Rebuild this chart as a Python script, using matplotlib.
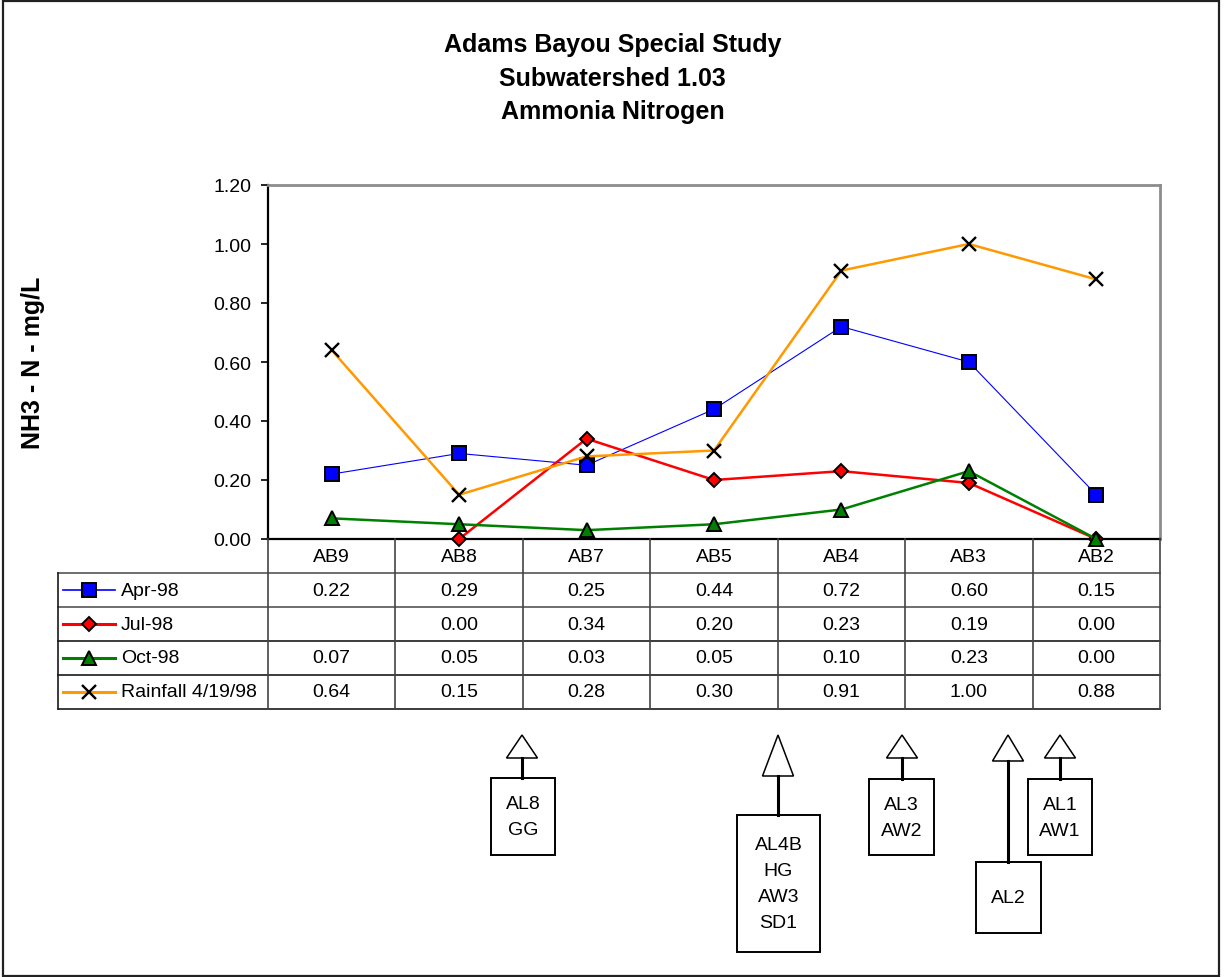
import numpy as np
import matplotlib
matplotlib.use("Agg")
from matplotlib import pyplot as plt
import matplotlib.patches as patches

plt.rcParams["font.family"] = ["Liberation Sans", "DejaVu Sans"]

# sampling stations, upstream to downstream
stations = ["AB9", "AB8", "AB7", "AB5", "AB4", "AB3", "AB2"]

apr_98 = [0.22, 0.29, 0.25, 0.44, 0.72, 0.60, 0.15]
jul_98 = [np.nan, 0.00, 0.34, 0.20, 0.23, 0.19, 0.00]
oct_98 = [0.07, 0.05, 0.03, 0.05, 0.10, 0.23, 0.00]
rain_98 = [0.64, 0.15, 0.28, 0.30, 0.91, 1.00, 0.88]

series_names = ["Apr-98", "Jul-98", "Oct-98", "Rainfall 4/19/98"]
y_ticks = [0.0, 0.2, 0.4, 0.6, 0.8, 1.0, 1.2]

title_lines = ["Adams Bayou Special Study", "Subwatershed 1.03", "Ammonia Nitrogen"]
y_label = "NH3 - N - mg/L"

# outfall / tributary callouts under the stations
callout_labels = [["AL8", "GG"], ["AL4B", "HG", "AW3", "SD1"], ["AL3", "AW2"],
                  ["AL2"], ["AL1", "AW1"]]

W, H = 1225, 978
fig = plt.figure(figsize=(W / 100, H / 100), dpi=100)

# full-figure overlay in pixel units (y down) for frame and callouts
over = fig.add_axes([0, 0, 1, 1])
over.set_xlim(0, W)
over.set_ylim(H, 0)
over.axis("off")
over.add_patch(patches.Rectangle((3, 2), 1216, 975, fill=False, ec="#222222", lw=1.6))


def px_box(left, top, right, bottom):
    return [left / W, 1 - bottom / H, (right - left) / W, (bottom - top) / H]


plot_l, plot_t, plot_r, plot_b = 268, 186, 1160, 540
ax = fig.add_axes(px_box(plot_l, plot_t, plot_r, plot_b))
ax.patch.set_alpha(0)

x = np.arange(len(stations))
styles = [
    dict(color="#0000FF", lw=0.8, marker="s", ms=9.5, mfc="#0000FF", mew=1.4),
    dict(color="#FF0000", lw=1.8, marker="D", ms=7.2, mfc="#FF0000", mew=1.4),
    dict(color="#008000", lw=1.8, marker="^", ms=10, mfc="#008000", mew=1.4),
    dict(color="#FF9900", lw=1.8, marker="x", ms=10.5, mfc="black", mew=1.7),
]
all_series = [apr_98, jul_98, oct_98, rain_98]
for vals, st in zip(all_series, styles):
    ax.plot(x, vals, mec="black", clip_on=False, zorder=3, **st)

ax.set_xlim(-0.5, len(stations) - 0.5)
ax.set_ylim(0, 1.2)
ax.set_yticks(y_ticks)
ax.set_yticklabels([f"{t:.2f}" for t in y_ticks], fontsize=14)
ax.tick_params(axis="y", direction="out", length=5, width=1.2, pad=7)
ax.set_xticks([])
for side in ["left", "bottom"]:
    ax.spines[side].set_color("black")
    ax.spines[side].set_linewidth(1.6)
for side in ["top", "right"]:
    ax.spines[side].set_color("#8c8c8c")
    ax.spines[side].set_linewidth(2.0)

# data table below the plot, sharing the category x scale
col_w = (plot_r - plot_l) / len(stations)
tab_l, tab_b = 58, 710
x0 = -0.5 - (plot_l - tab_l) / col_w
tab = fig.add_axes(px_box(tab_l, plot_b, plot_r, tab_b))
tab.set_xlim(x0, len(stations) - 0.5)
tab.set_ylim(5, 0)
tab.axis("off")

n_rows = len(all_series) + 1
line_kw = dict(color="#1a1a1a", lw=1.2, clip_on=False)
# horizontal rules
for r in range(1, n_rows + 1):
    tab.plot([x0, len(stations) - 0.5], [r, r],
             **dict(line_kw, color="#555555" if r in (1, 2) else "#1a1a1a"))
# vertical rules
tab.plot([x0, x0], [1, n_rows], **line_kw)
for c in range(len(stations) + 1):
    tab.plot([c - 0.5, c - 0.5], [0, n_rows], **dict(line_kw, color="#444444"))

for i, s in enumerate(stations):
    tab.text(i, 0.5, s, ha="center", va="center", fontsize=14)

for r, (name, vals, st) in enumerate(zip(series_names, all_series, styles)):
    yy = r + 1.5
    for i, v in enumerate(vals):
        if not np.isnan(v):
            tab.text(i, yy, f"{v:.2f}", ha="center", va="center", fontsize=14)
    # legend key in the first column
    k0 = x0 + 5 / col_w
    k1 = x0 + 57 / col_w
    tab.plot([k0, k1], [yy, yy], color=st["color"], lw=st["lw"] + 0.4, clip_on=False)
    tab.plot([(k0 + k1) / 2], [yy], ls="none", marker=st["marker"], ms=st["ms"],
             mfc=st["mfc"], mec="black", mew=st["mew"], clip_on=False)
    tab.text(x0 + 63 / col_w, yy, name, ha="left", va="center", fontsize=14)

# title and axis label
title_y = [45, 79, 112]
for line, ty in zip(title_lines, title_y):
    fig.text(0.5, 1 - ty / H, line, ha="center", va="center",
             fontsize=18, fontweight="bold")
fig.text(33 / W, 1 - (plot_t + plot_b) / 2 / H, y_label, rotation=90,
         ha="center", va="center", fontsize=18, fontweight="bold")

# callouts: (apex x, triangle base y, box left, top, right, bottom)
callout_geom = [
    (522, 759, 491, 779, 555, 856),
    (778, 777, 737, 816, 820, 953),
    (902, 759, 869, 780, 934, 856),
    (1008, 762, 976, 863, 1041, 934),
    (1060, 759, 1028, 780, 1092, 856),
]
apex_y = 736
for (ax_x, base_y, bl, bt, br, bb), lines in zip(callout_geom, callout_labels):
    half = 15.5
    over.add_patch(patches.Polygon([(ax_x, apex_y), (ax_x - half, base_y), (ax_x + half, base_y)],
                                   closed=True, fc="white", ec="black", lw=1.1))
    over.plot([ax_x, ax_x], [base_y, bt], color="black", lw=2.2)
    over.add_patch(patches.Rectangle((bl, bt), br - bl, bb - bt, fc="white", ec="black", lw=1.4))
    cy = (bt + bb) / 2
    step = 26
    for j, t in enumerate(lines):
        ty = cy + (j - (len(lines) - 1) / 2) * step
        over.text((bl + br) / 2, ty, t, ha="center", va="center", fontsize=14)

fig.savefig("out.png", dpi=100)
